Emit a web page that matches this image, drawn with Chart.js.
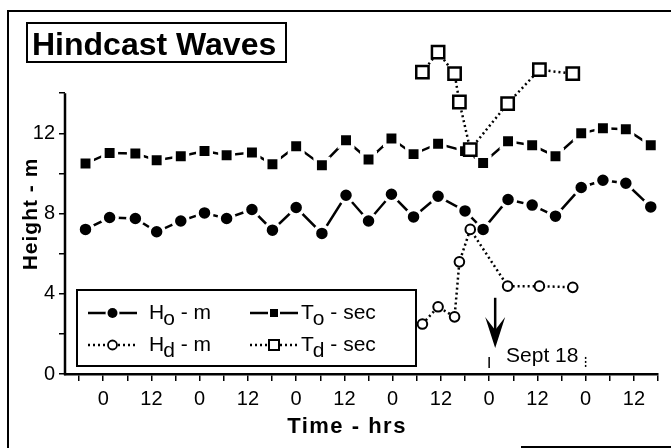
<!DOCTYPE html>
<html>
<head>
<meta charset="utf-8">
<title>Hindcast Waves</title>
<script src="https://cdn.jsdelivr.net/npm/chart.js@4.4.1/dist/chart.umd.min.js"></script>
<style>
  html, body { margin: 0; padding: 0; background: #fff; }
  #contenedor { width: 671px; height: 448px; }
</style>
</head>
<body>
<div id="contenedor"><canvas id="olasChart" width="671" height="448"></canvas></div>
<script>
// Datos (hora 0 = medianoche del primer día)
const horasO = [-4.4, 1.6, 8.0, 13.3, 19.3, 25.2, 30.7, 37.0, 42.1, 48.0, 54.4, 60.4, 66.0,
                71.7, 77.2, 83.3, 90.0, 94.5, 100.7, 106.7, 112.5, 118.9, 124.3, 130.0, 136.2];
const alturaHo = [7.21, 7.80, 7.75, 7.09, 7.63, 8.03, 7.75, 8.20, 7.17, 8.30, 7.01, 8.91, 7.63,
                  8.96, 7.83, 8.86, 8.13, 7.21, 8.70, 8.42, 7.87, 9.30, 9.66, 9.51, 8.33];
const periodoTo = [10.49, 11.02, 10.99, 10.66, 10.86, 11.12, 10.91, 11.04, 10.46, 11.35, 10.41, 11.65, 10.69,
                   11.74, 10.96, 11.48, 11.11, 10.52, 11.60, 11.40, 10.86, 12.00, 12.25, 12.20, 11.40];

const horasD = [79.4, 83.3, 87.4, 88.6, 91.3, 100.6, 108.5, 116.8];
const alturaHd = [2.49, 3.35, 2.85, 5.59, 7.21, 4.38, 4.38, 4.32];
const periodoTd = [15.05, 16.05, 14.97, 13.56, 11.19, 13.48, 15.17, 14.97];

// Marcas de los ejes
const ticksX = [-6, 0, 6, 12, 18, 24, 30, 36, 42, 48, 54, 60, 66, 72, 78, 84, 90, 96, 102, 108, 114, 120, 126, 132, 138];
const ticksY = [0, 2, 4, 6, 8, 10, 12, 14];
const etiquetasY = [0, 4, 8, 12];

// Leyenda (letra, subíndice, unidad)
const leyendaLetra = ['H', 'T', 'H', 'T'];
const leyendaSub = ['o', 'o', 'd', 'd'];
const leyendaUnidad = [' - m', ' - sec', ' - m', ' - sec'];

const FUENTE = '"Liberation Sans", Arial, Helvetica, sans-serif';
Chart.defaults.font.family = FUENTE;
Chart.defaults.color = '#000';

function puntos(horas, valores) {
  return horas.map((h, i) => ({ x: h, y: valores[i] }));
}

// Dibuja un marcador igual que en la serie
function marcador(ctx, tipo, x, y, relleno) {
  ctx.save();
  if (tipo === 'circulo') {
    if (relleno) {
      ctx.fillStyle = '#fff';
      ctx.beginPath(); ctx.arc(x, y, 7, 0, Math.PI * 2); ctx.fill();
      ctx.fillStyle = '#000';
      ctx.beginPath(); ctx.arc(x, y, 5, 0, Math.PI * 2); ctx.fill();
    } else {
      ctx.fillStyle = '#fff'; ctx.strokeStyle = '#000'; ctx.lineWidth = 1.8;
      ctx.beginPath(); ctx.arc(x, y, 4.5, 0, Math.PI * 2); ctx.fill(); ctx.stroke();
    }
  } else {
    if (relleno) {
      ctx.fillStyle = '#fff'; ctx.fillRect(x - 6, y - 6, 12, 12);
      ctx.fillStyle = '#000'; ctx.fillRect(x - 4, y - 4, 8, 8);
    } else {
      ctx.fillStyle = '#fff'; ctx.strokeStyle = '#000'; ctx.lineWidth = 2;
      ctx.fillRect(x - 5, y - 5, 10, 10); ctx.strokeRect(x - 5, y - 5, 10, 10);
    }
  }
  ctx.restore();
}

const decoracion = {
  id: 'decoracion',
  beforeDatasetsDraw(chart) {
    // Eje Y solo de 0 a 14
    const { ctx, scales: { x, y } } = chart;
    ctx.save();
    ctx.strokeStyle = '#000';
    ctx.lineWidth = 2.5;
    ctx.beginPath();
    ctx.moveTo(x.left, y.getPixelForValue(0) + 1.2);
    ctx.lineTo(x.left, y.getPixelForValue(14));
    ctx.stroke();
    ctx.restore();
  },
  afterDraw(chart) {
    const { ctx, scales: { x, y } } = chart;
    ctx.save();
    ctx.strokeStyle = '#000';
    ctx.fillStyle = '#000';

    // Marco exterior
    ctx.lineWidth = 2;
    ctx.beginPath();
    ctx.moveTo(8, 448); ctx.lineTo(8, 11); ctx.lineTo(671, 11);
    ctx.moveTo(521, 447); ctx.lineTo(671, 447);
    ctx.stroke();

    // Título con recuadro
    ctx.strokeRect(27, 23, 259, 39);
    ctx.font = 'bold 32px ' + FUENTE;
    ctx.textAlign = 'left';
    ctx.textBaseline = 'alphabetic';
    ctx.fillText('Hindcast Waves', 32, 55);

    // Títulos de los ejes
    ctx.font = 'bold 21px ' + FUENTE;
    ctx.letterSpacing = '1px';
    ctx.textAlign = 'center';
    ctx.save();
    ctx.translate(37, 214);
    ctx.rotate(-Math.PI / 2);
    ctx.fillText('Height - m', 0, 0);
    ctx.restore();
    ctx.font = 'bold 22px ' + FUENTE;
    ctx.letterSpacing = '1.5px';
    ctx.fillText('Time - hrs', 347, 433);
    ctx.letterSpacing = '0px';

    // Leyenda
    ctx.lineWidth = 2;
    ctx.fillStyle = '#fff';
    ctx.fillRect(77, 290, 339, 76);
    ctx.strokeRect(77, 290, 339, 76);
    ctx.fillStyle = '#000';
    const filas = [313, 345];
    const colLinea = [[88, 137], [250, 298]];
    const colTexto = [149, 301];
    for (let i = 0; i < 4; i++) {
      const col = i % 2, fila = Math.floor(i / 2);
      const yf = filas[fila];
      const [x0, x1] = colLinea[col];
      ctx.save();
      ctx.lineWidth = 2.5;
      if (fila === 1) ctx.setLineDash([2, 3]);
      ctx.beginPath(); ctx.moveTo(x0, yf); ctx.lineTo(x1, yf); ctx.stroke();
      ctx.restore();
      marcador(ctx, col === 0 ? 'circulo' : 'cuadro', (x0 + x1) / 2, yf, fila === 0);
      ctx.font = '21px ' + FUENTE;
      ctx.textAlign = 'left';
      const tx = colTexto[col], by = yf + 5.5;
      ctx.fillText(leyendaLetra[i], tx, by);
      const w1 = ctx.measureText(leyendaLetra[i]).width - 1;
      ctx.fillText(leyendaSub[i], tx + w1, by + 6);
      const w2 = ctx.measureText(leyendaSub[i]).width;
      ctx.fillText(leyendaUnidad[i], tx + w1 + w2, by);
    }

    // Flecha y marca del 18 de septiembre
    const xa = x.getPixelForValue(97.5);
    const punta = y.getPixelForValue(1.3);
    ctx.lineWidth = 2.5;
    ctx.beginPath();
    ctx.moveTo(xa, y.getPixelForValue(3.8));
    ctx.lineTo(xa, punta - 16);
    ctx.stroke();
    ctx.beginPath();
    ctx.moveTo(xa, punta);
    ctx.lineTo(xa - 10, punta - 31);
    ctx.lineTo(xa, punta - 18);
    ctx.lineTo(xa + 10, punta - 31);
    ctx.closePath();
    ctx.fill();

    ctx.lineWidth = 1.5;
    [96, 120].forEach((h, k) => {
      const xm = x.getPixelForValue(h);
      ctx.save();
      if (k === 1) ctx.setLineDash([2, 2]);
      ctx.beginPath();
      ctx.moveTo(xm, y.getPixelForValue(0.85));
      ctx.lineTo(xm, y.getPixelForValue(0.3));
      ctx.stroke();
      ctx.restore();
    });
    ctx.font = '21px ' + FUENTE;
    ctx.textAlign = 'left';
    ctx.fillText('Sept 18', x.getPixelForValue(100.2), y.getPixelForValue(0.62));
    ctx.restore();
  }
};

const ctx = document.getElementById('olasChart').getContext('2d');
new Chart(ctx, {
  type: 'line',
  data: {
    datasets: [
      {
        label: 'Td - sec', data: puntos(horasD, periodoTd), order: 0,
        borderColor: '#000', borderWidth: 2.5, borderDash: [2, 3],
        pointStyle: 'rect', pointRadius: 8.7, pointBorderWidth: 2.5,
        pointBackgroundColor: '#fff', pointBorderColor: '#000'
      },
      {
        label: 'Hd - m', data: puntos(horasD, alturaHd), order: 1,
        borderColor: '#000', borderWidth: 2.5, borderDash: [2, 3],
        pointStyle: 'circle', pointRadius: 4.8, pointBorderWidth: 2,
        pointBackgroundColor: '#fff', pointBorderColor: '#000'
      },
      {
        label: 'To - sec', data: puntos(horasO, periodoTo), order: 2,
        borderColor: '#000', borderWidth: 2.5,
        pointStyle: 'rect', pointRadius: 9.5, pointBorderWidth: 3.5,
        pointBackgroundColor: '#000', pointBorderColor: '#fff'
      },
      {
        label: 'Ho - m', data: puntos(horasO, alturaHo), order: 3,
        borderColor: '#000', borderWidth: 2.5,
        pointStyle: 'circle', pointRadius: 7.5, pointBorderWidth: 3.5,
        pointBackgroundColor: '#000', pointBorderColor: '#fff'
      }
    ]
  },
  options: {
    responsive: false,
    animation: false,
    events: [],
    devicePixelRatio: 1,
    layout: { padding: { top: 33, right: 4, left: 0, bottom: 0 } },
    elements: { line: { tension: 0, fill: false } },
    plugins: { legend: { display: false }, tooltip: { enabled: false } },
    scales: {
      x: {
        type: 'linear', min: -9.5, max: 138,
        afterFit(scale) { scale.height = 74; },
        afterBuildTicks(scale) { scale.ticks = ticksX.map(v => ({ value: v })); },
        border: { display: true, color: '#000', width: 2.5 },
        grid: { drawOnChartArea: false, drawTicks: true, tickLength: 7, color: '#000', lineWidth: 1.5 },
        ticks: {
          autoSkip: false, maxRotation: 0, padding: 6, color: '#000',
          font: { size: 20 },
          callback: v => (v % 12 === 0 ? String(((v % 24) + 24) % 24) : '')
        }
      },
      y: {
        type: 'linear', min: 0, max: 17,
        afterFit(scale) { scale.width = 65; },
        afterBuildTicks(scale) { scale.ticks = ticksY.map(v => ({ value: v })); },
        border: { display: false },
        grid: { drawOnChartArea: false, drawTicks: true, tickLength: 6, color: '#000', lineWidth: 1.5 },
        ticks: {
          autoSkip: false, padding: 4, color: '#000',
          font: { size: 20 },
          callback: v => (etiquetasY.includes(v) ? String(v) : '')
        }
      }
    }
  },
  plugins: [decoracion]
});
</script>
</body>
</html>
